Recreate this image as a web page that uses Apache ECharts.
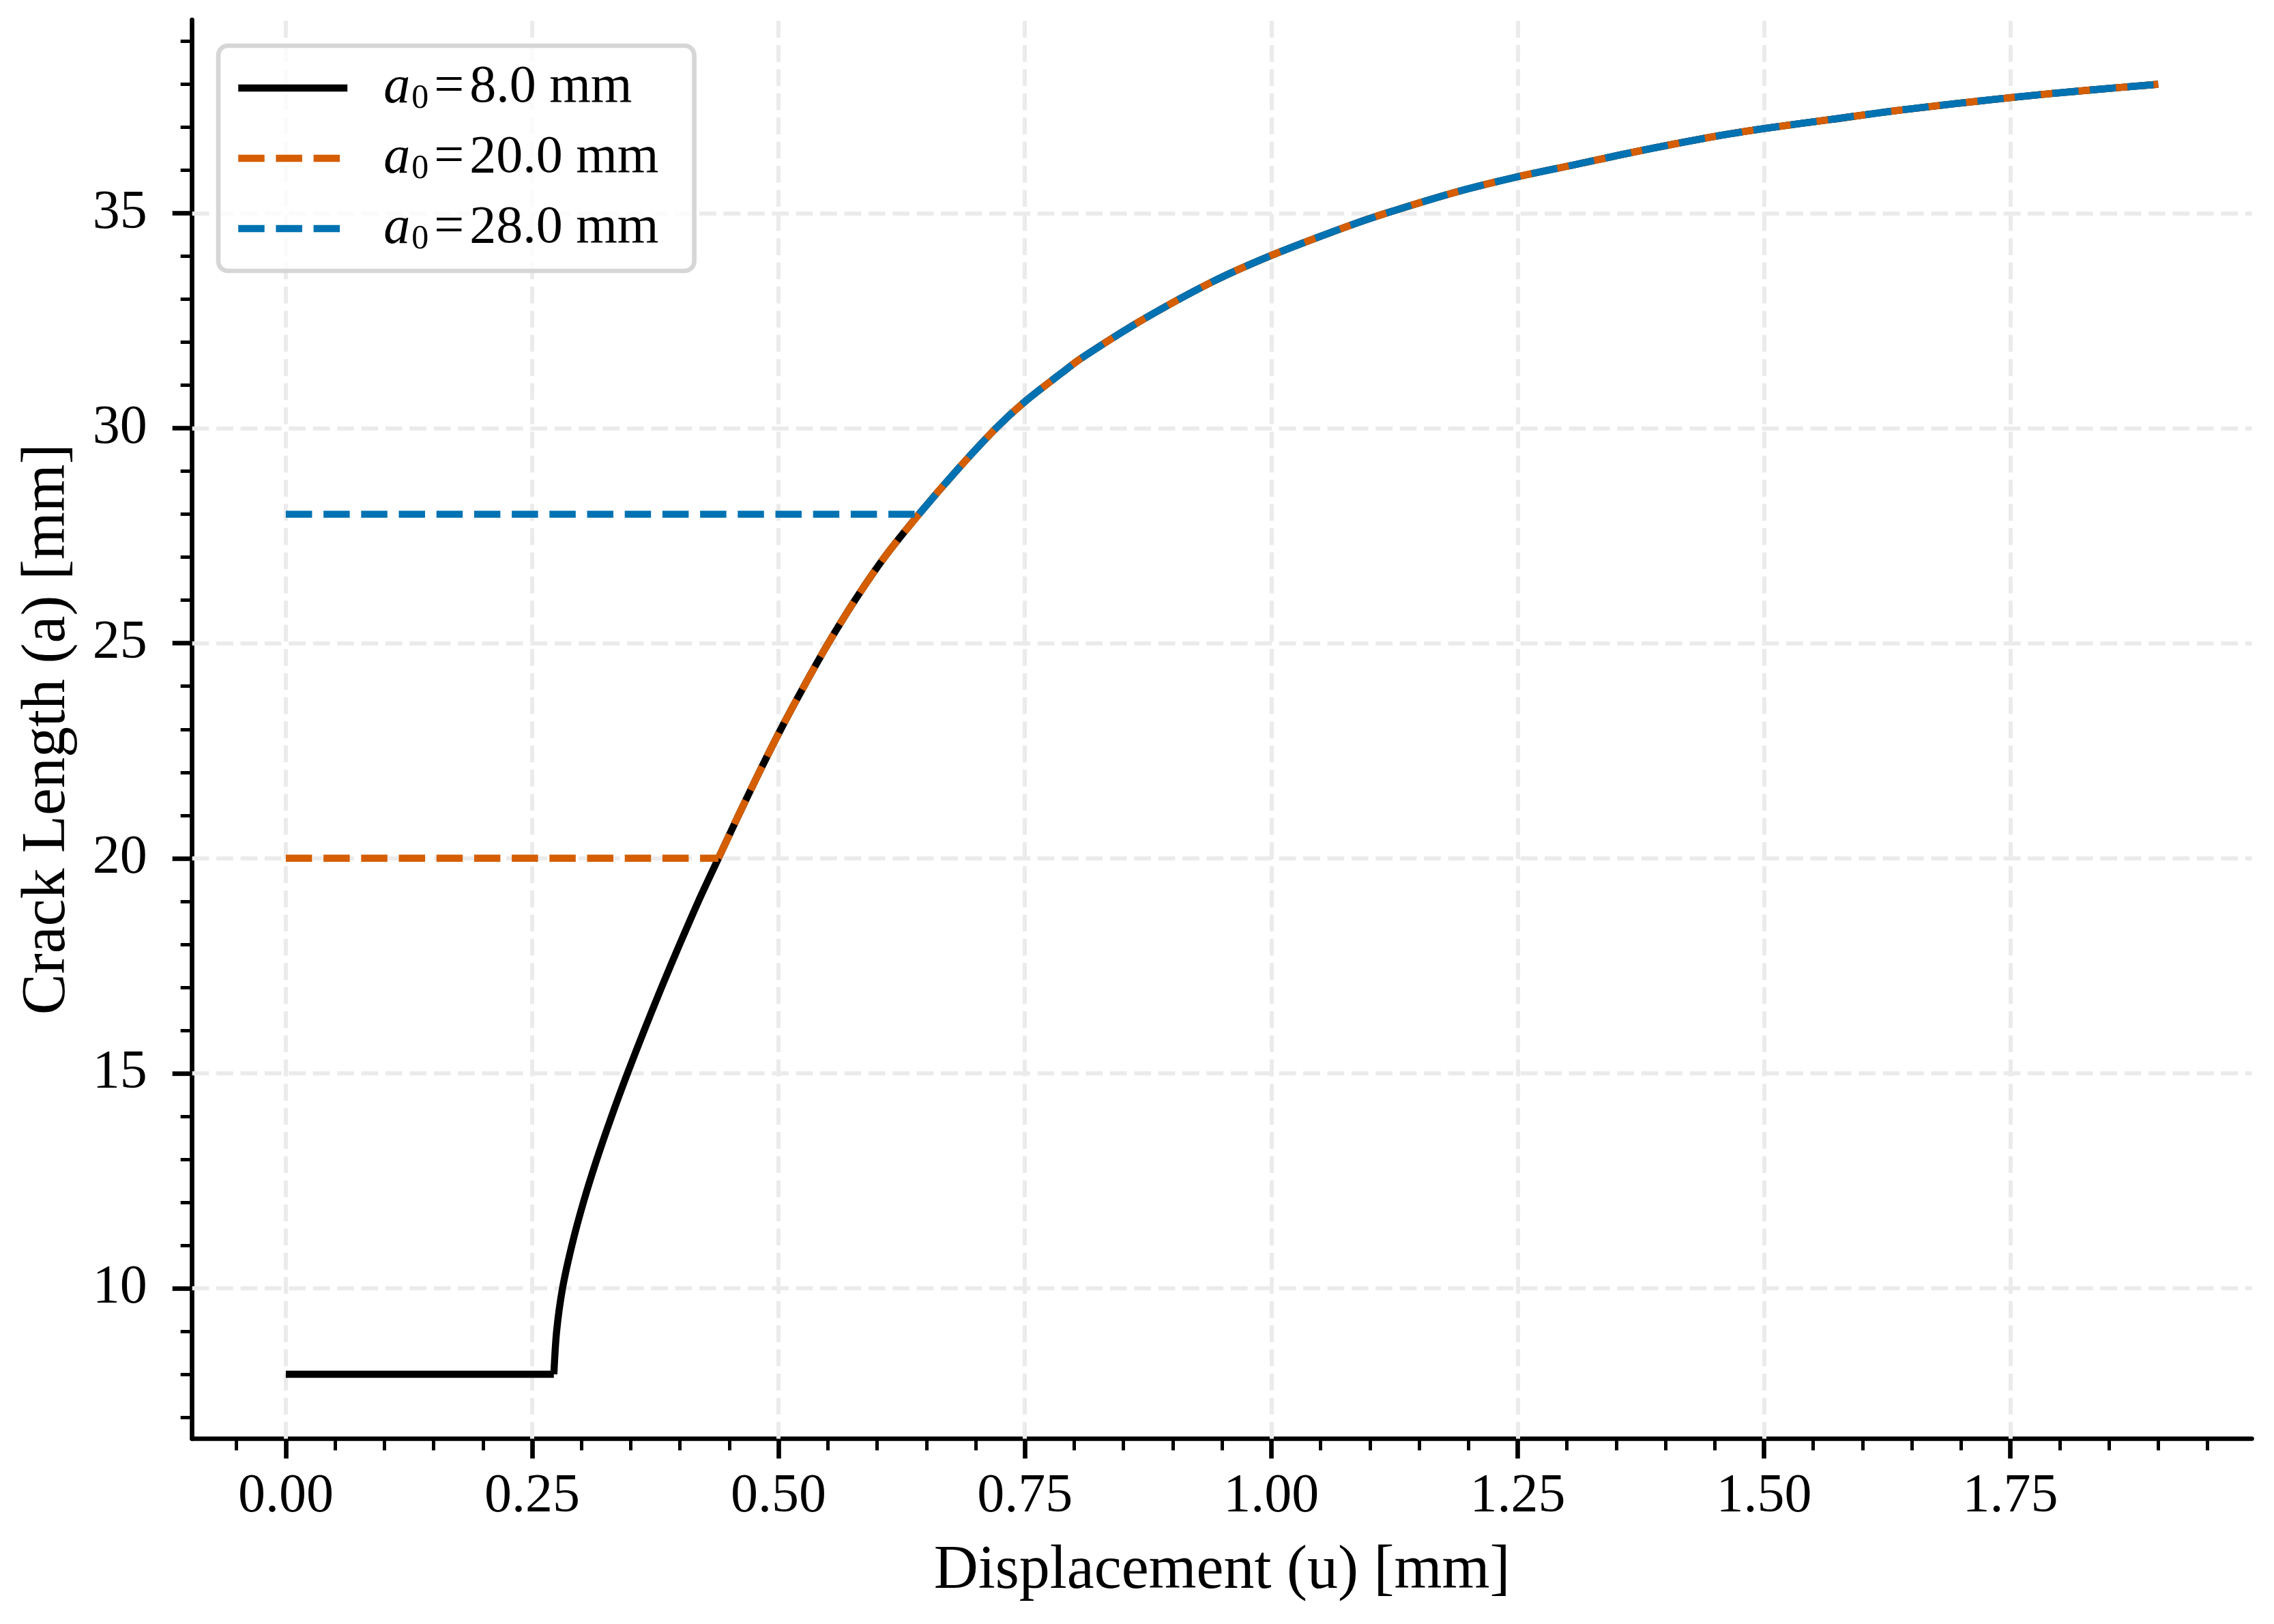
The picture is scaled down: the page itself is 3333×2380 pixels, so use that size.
<!DOCTYPE html>
<html>
<head>
<meta charset="utf-8">
<script src="https://cdn.jsdelivr.net/npm/echarts@6/dist/echarts.min.js"></script>
<style>
html,body{margin:0;padding:0;background:#ffffff;}
#chart{width:3333px;height:2380px;}
</style>
</head>
<body>
<div id="chart"></div>
<script>
// ---- data ----
// shared crack-growth curve (displacement u [mm], crack length a [mm])
const uCurve = [0.272, 0.2748, 0.2808, 0.2903, 0.302, 0.3156, 0.3306, 0.3467, 0.3637, 0.3813,
  0.3997, 0.4187, 0.439, 0.4594, 0.4804, 0.5023, 0.5258, 0.5505, 0.5775, 0.6075,
  0.6424, 0.68, 0.7206, 0.75, 0.7869, 0.8073, 0.8691, 0.9396, 1.0, 1.0765,
  1.1162, 1.1868, 1.25, 1.3059, 1.3712, 1.4482, 1.5, 1.5675, 1.6382, 1.75,
  1.8326, 1.9];
const aCurve = [8, 9, 10, 11, 12, 13, 14, 15, 16, 17,
  18, 19, 20, 21, 22, 23, 24, 25, 26, 27,
  28, 29, 30, 30.62, 31.28, 31.63, 32.52, 33.4, 34.02, 34.69,
  35.0, 35.49, 35.85, 36.12, 36.44, 36.78, 36.97, 37.18, 37.4, 37.69,
  37.87, 38.0];
const a0Values = [8.0, 20.0, 28.0];
const seriesNames = ['a0=8.0 mm', 'a0=20.0 mm', 'a0=28.0 mm'];
const seriesColors = ['#000000', '#D55E00', '#0072B2'];
const xMajor = [0, 0.25, 0.5, 0.75, 1.0, 1.25, 1.5, 1.75];
const xMinor = [-0.05, 0.05, 0.1, 0.15, 0.2, 0.3, 0.35, 0.4, 0.45, 0.55, 0.6, 0.65, 0.7,
  0.8, 0.85, 0.9, 0.95, 1.05, 1.1, 1.15, 1.2, 1.3, 1.35, 1.4, 1.45, 1.55, 1.6, 1.65, 1.7,
  1.8, 1.85, 1.9, 1.95];
const yMajor = [10, 15, 20, 25, 30, 35];
const yMinor = [7, 8, 9, 11, 12, 13, 14, 16, 17, 18, 19, 21, 22, 23, 24, 26, 27, 28, 29,
  31, 32, 33, 34, 36, 37, 38, 39];
const xLimits = [-0.095, 1.995];
const yLimits = [6.5, 39.5];

// ---- build ----
const FONT = 'Liberation Serif';
const curvePts = uCurve.map((u, i) => [u, aCurve[i]]);
const DASH = [38.5, 16.7];
const LW = 10.4;

const gridMarks = xMajor.map(v => ({xAxis: v})).concat(yMajor.map(v => ({yAxis: v})));

const series = [];
a0Values.forEach((a0, i) => {
  const grow = curvePts.filter(p => p[1] >= a0);
  const lineStyle = {color: seriesColors[i], width: LW, type: i === 0 ? 'solid' : DASH, cap: 'butt', join: 'round'};
  // initial flat part (crack not yet growing)
  const flat = {
    name: seriesNames[i], type: 'line', xAxisIndex: 0, yAxisIndex: 0,
    data: [[0, a0], grow[0]],
    showSymbol: false, symbol: 'none', z: 3,
    lineStyle: lineStyle, itemStyle: {color: seriesColors[i]}, animation: false
  };
  // growth part
  const growS = {
    name: seriesNames[i], type: 'line', xAxisIndex: 0, yAxisIndex: 0,
    data: grow,
    smooth: 0.3,
    showSymbol: false, symbol: 'none', z: 3,
    lineStyle: lineStyle, itemStyle: {color: seriesColors[i]}, animation: false
  };
  if (i === 0) {
    flat.markLine = {
      silent: true,
      z: 1,
      symbol: ['none', 'none'],
      label: {show: false},
      lineStyle: {color: '#ebebeb', width: 6, type: [24.7, 10.7]},
      emphasis: {disabled: true},
      animation: false,
      data: gridMarks
    };
  }
  series.push(flat, growS);
});

const tickLabelStyle = {fontFamily: FONT, fontSize: 80, color: '#000000'};
const nameStyle = {fontFamily: FONT, fontSize: 90, color: '#000000'};

const option = {
  backgroundColor: '#ffffff',
  animation: false,
  grid: {left: 281.7, right: 32.5, top: 29, bottom: 271.5, containLabel: false, outerBoundsMode: 'none'},
  legend: {
    orient: 'vertical',
    left: 320,
    top: 67,
    padding: [17, 52, 17, 24],
    itemGap: 13,
    itemWidth: 160,
    itemHeight: 90,
    backgroundColor: 'rgba(255,255,255,0.8)',
    borderColor: '#d6d6d6',
    borderWidth: 6.67,
    borderRadius: 14,
    selectedMode: false,
    lineStyle: {width: LW},
    itemStyle: {color: 'rgba(0,0,0,0)', borderColor: 'rgba(0,0,0,0)', borderWidth: 0},
    data: seriesNames,
    formatter: function (name) {
      const rest = name.split('=')[1];
      return '{i|a}{s|0}{e|=}{t|' + rest + '}';
    },
    textStyle: {
      fontFamily: FONT, fontSize: 78, color: '#000000', lineHeight: 90,
      rich: {
        i: {fontFamily: FONT, fontSize: 78, fontStyle: 'italic', lineHeight: 90, padding: [0, 0, 0, 48], color: '#000'},
        s: {fontFamily: FONT, fontSize: 50, lineHeight: 50, padding: [32, 2, 0, 2], color: '#000'},
        e: {fontFamily: FONT, fontSize: 78, lineHeight: 90, padding: [0, 8, 0, 6], color: '#000'},
        t: {fontFamily: FONT, fontSize: 78, lineHeight: 90, color: '#000'}
      }
    }
  },
  xAxis: [
    {
      type: 'value', gridIndex: 0, position: 'bottom',
      min: xLimits[0], max: xLimits[1],
      name: 'Displacement (u) [mm]', nameLocation: 'middle', nameGap: 150,
      nameMoveOverlap: false,
      nameTextStyle: nameStyle,
      axisLine: {show: true, onZero: false, lineStyle: {color: '#000', width: 6.67}},
      axisTick: {show: true, inside: false, length: 29, customValues: xMajor, lineStyle: {color: '#000', width: 6.67}},
      axisLabel: Object.assign({show: true, margin: 45, customValues: xMajor,
        formatter: v => Number(v).toFixed(2)}, tickLabelStyle),
      splitLine: {show: false},
      minorTick: {show: false},
      minorSplitLine: {show: false}
    },
    {
      type: 'value', gridIndex: 0, position: 'bottom',
      min: xLimits[0], max: xLimits[1],
      axisLine: {show: false, onZero: false},
      axisTick: {show: true, inside: false, length: 17, customValues: xMinor, lineStyle: {color: '#000', width: 5}},
      axisLabel: {show: false},
      splitLine: {show: false}
    }
  ],
  yAxis: [
    {
      type: 'value', gridIndex: 0, position: 'left',
      min: yLimits[0], max: yLimits[1],
      name: 'Crack Length (a) [mm]', nameLocation: 'middle', nameGap: 166, nameRotate: 90,
      nameMoveOverlap: false,
      nameTextStyle: nameStyle,
      axisLine: {show: true, onZero: false, lineStyle: {color: '#000', width: 6.67}},
      axisTick: {show: true, inside: false, length: 29, customValues: yMajor, lineStyle: {color: '#000', width: 6.67}},
      axisLabel: Object.assign({show: true, margin: 66, customValues: yMajor,
        formatter: v => String(Math.round(v))}, tickLabelStyle),
      splitLine: {show: false}
    },
    {
      type: 'value', gridIndex: 0, position: 'left',
      min: yLimits[0], max: yLimits[1],
      axisLine: {show: false, onZero: false},
      axisTick: {show: true, inside: false, length: 17, customValues: yMinor, lineStyle: {color: '#000', width: 5}},
      axisLabel: {show: false},
      splitLine: {show: false}
    }
  ],
  series: series
};

const chart = echarts.init(document.getElementById('chart'), null, {renderer: 'canvas', devicePixelRatio: 1, width: 3333, height: 2380});
chart.setOption(option);
</script>
</body>
</html>
